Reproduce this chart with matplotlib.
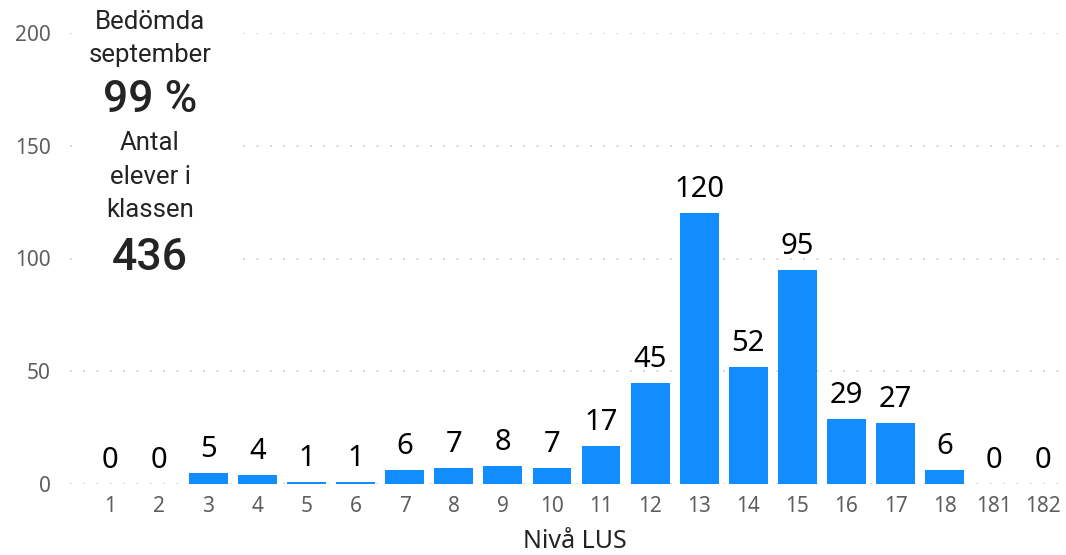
#!/usr/bin/env python3

import matplotlib
matplotlib.use('Agg')
import matplotlib.pyplot as plt
from matplotlib.patches import Rectangle

# Data
levels = ['1', '2', '3', '4', '5', '6', '7', '8', '9', '10', '11', '12',
          '13', '14', '15', '16', '17', '18', '181', '182']
counts = [0, 0, 5, 4, 1, 1, 6, 7, 8, 7, 17, 45, 120, 52, 95, 29, 27, 6, 0, 0]
yticks = [0, 50, 100, 150, 200]

card_lines = [
    ('Bedömda', 18.5, 22, 'normal'),
    ('september', 18.5, 55, 'normal'),
    ('99 %', 32, 100, 'medium'),
    ('Antal', 18.5, 143, 'normal'),
    ('elever i', 18.5, 177, 'normal'),
    ('klassen', 18.5, 210, 'normal'),
    ('436', 32, 258, 'medium'),
]

BAR_COLOR = '#118DFF'
TICK_COLOR = '#605E5C'
TEXT_COLOR = '#252423'

W, H = 1066, 555


def main():
    plt.rcParams['font.family'] = ['Noto Sans', 'DejaVu Sans']

    fig = plt.figure(figsize=(W / 100, H / 100), dpi=100)
    # axes: left edge at x=70 px, bottom at y=484 px, top at y=33 px
    ax = fig.add_axes([70 / W, (H - 484) / H, (W - 70) / W, (484 - 33) / H])

    x = list(range(len(levels)))
    bars = ax.bar(x, counts, width=0.79, color=BAR_COLOR, zorder=2)

    for rect, val in zip(bars, counts):
        ax.annotate(str(val), (rect.get_x() + rect.get_width() / 2, val),
                    xytext=(0, 11.5), textcoords='offset points',
                    ha='center', va='baseline', fontsize=21,
                    color='black', clip_on=False, zorder=3)

    ax.set_xlim(-0.815, 19.47)
    ax.set_ylim(0, 200)
    ax.set_xticks(x)
    ax.set_xticklabels(levels)
    ax.set_yticks(yticks)
    ax.tick_params(axis='both', length=0, labelsize=15, labelcolor=TICK_COLOR)
    ax.tick_params(axis='x', pad=9)
    ax.tick_params(axis='y', pad=14)

    for side in ax.spines.values():
        side.set_visible(False)

    ax.yaxis.grid(True, color='#C8C8C8', linewidth=1.2, dashes=(1, 7), zorder=0)
    ax.set_axisbelow(True)

    fig.text(575 / W, 1 - 548 / H, 'Nivå LUS', ha='center', va='baseline',
             fontsize=18, color=TEXT_COLOR)

    # white card covering the grid on the left
    fig.patches.append(Rectangle((72 / W, 1 - 290 / H), (234 - 72) / W,
                                 290 / H, transform=fig.transFigure,
                                 facecolor='white', edgecolor='none', zorder=5))
    for text, size, ypix, weight in card_lines:
        fig.text(150 / W, 1 - ypix / H, text, ha='center', va='center',
                 fontsize=size, color=TEXT_COLOR, zorder=6, fontweight=weight,
                 fontfamily=['Roboto', 'DejaVu Sans'])

    fig.savefig('out.png', dpi=100)


if __name__ == '__main__':
    main()
